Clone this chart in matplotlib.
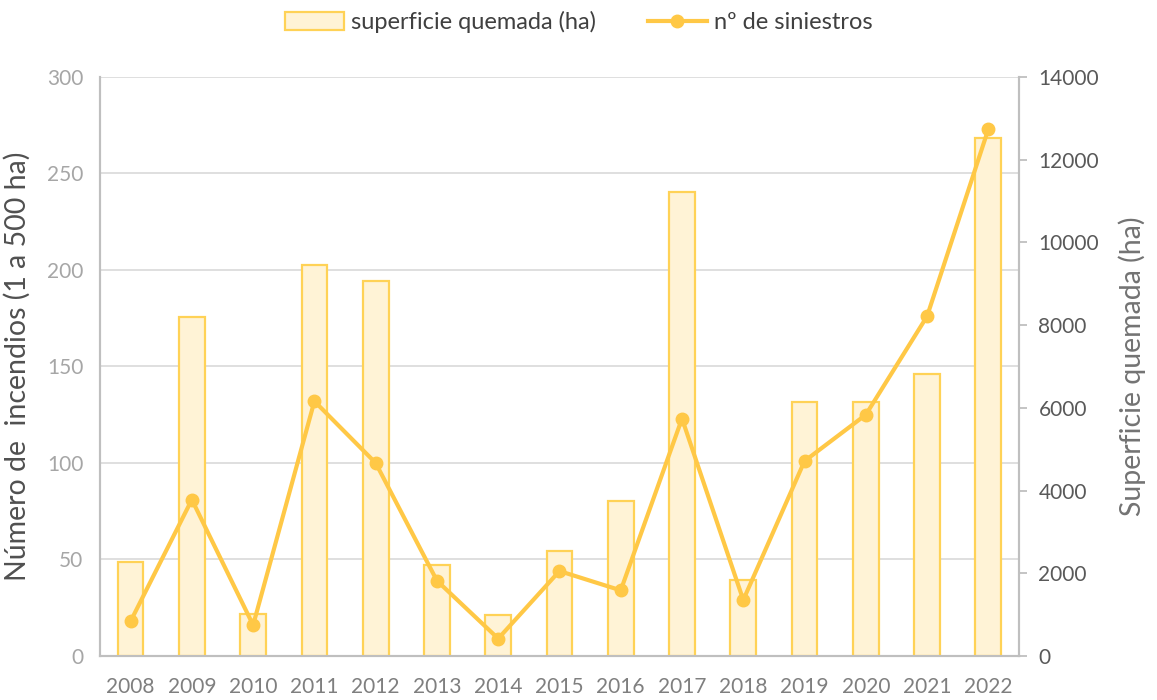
import numpy as np
import matplotlib.pyplot as plt
from matplotlib.patches import Patch
from matplotlib.lines import Line2D

plt.rcParams['font.family'] = ['Lato', 'DejaVu Sans']

# data
years = ['2008', '2009', '2010', '2011', '2012', '2013', '2014', '2015',
         '2016', '2017', '2018', '2019', '2020', '2021', '2022']
superficie = [2280, 8200, 1010, 9460, 9070, 2200, 990, 2530,
              3740, 11230, 1830, 6130, 6140, 6810, 12530]
siniestros = [18, 81, 16, 132, 100, 39, 9, 44,
              34, 123, 29, 101, 125, 176, 273]

line_col = '#FFC846'
bar_face = '#FFF3D6'
bar_edge = '#FFD256'
spine_col = '#BFBFBF'
grid_col = '#DCDCDC'

fig = plt.figure(figsize=(11.57, 7.0), dpi=100)
ax = fig.add_axes([0.0864, 0.0629, 0.7943, 0.8271])
ax2 = ax.twinx()

x = np.arange(len(years))

# left axis: number of fires (grid lives here, behind bars)
ax.set_ylim(0, 300)
ax.set_yticks(np.arange(0, 301, 50))
ax.yaxis.grid(True, color=grid_col, linewidth=1.3)
ax.set_axisbelow(True)
ax.set_xlim(-0.5, len(years) - 0.5)
ax.set_xticks(x)
ax.set_xticklabels(years)
ax.tick_params(axis='x', length=0, pad=15, labelsize=15, labelcolor='#7F7F7F')
ax.tick_params(axis='y', length=0, pad=12, labelsize=15, labelcolor='#A6A6A6')
ax.set_ylabel('Número de  incendios (1 a 500 ha)', fontsize=20.5, color='#505050', labelpad=12)

# right axis: burned area bars
ax2.set_ylim(0, 14000)
ax2.set_yticks(np.arange(0, 14001, 2000))
ax2.bar(x, superficie, width=0.42, color=bar_face, edgecolor=bar_edge, linewidth=1.6, zorder=2)
ax2.tick_params(axis='y', length=6, width=1.3, color=spine_col, pad=8,
                labelsize=15, labelcolor='#595959')
ax2.set_ylabel('Superficie quemada (ha)', fontsize=20.5, color='#737373', labelpad=14)

# line drawn on top of bars, using the left axis scale
ax2.plot(x, siniestros, transform=ax.transData, color=line_col, linewidth=3,
         marker='o', markersize=9, zorder=3, clip_on=False)

for a in (ax, ax2):
    a.spines['top'].set_visible(False)
    for s in ('left', 'right', 'bottom'):
        a.spines[s].set_color(spine_col)
        a.spines[s].set_linewidth(1.5)

handles = [Patch(facecolor=bar_face, edgecolor=bar_edge, linewidth=1.6),
           Line2D([0], [0], color=line_col, linewidth=3, marker='o', markersize=9)]
fig.legend(handles, ['superficie quemada (ha)', 'nº de siniestros'],
           loc='center', bbox_to_anchor=(0.5, 0.968), ncol=2, frameon=False,
           fontsize=17, handlelength=2.5, handleheight=0.8, columnspacing=2.2,
           handletextpad=0.3, labelcolor='#404040')

fig.savefig('out.png', dpi=100)
